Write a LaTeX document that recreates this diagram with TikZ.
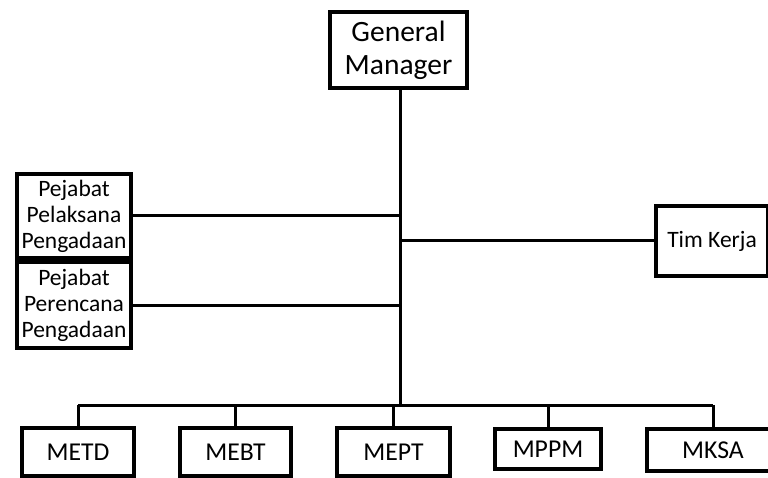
\documentclass[tikz,border=0pt]{standalone}
\usepackage{fontspec}
\setmainfont{Carlito}
\usetikzlibrary{positioning}

\begin{document}
\begin{tikzpicture}[x=1pt,y=-1pt,
    kotak/.style={draw,line width=4.4pt,fill=white,inner sep=0pt,align=center},
    garis/.style={line width=3pt}]
    \useasboundingbox (0,0) rectangle (768,478);
    \clip (0,0) rectangle (768,478);
    % pimpinan
    \node[kotak,minimum width=137pt,minimum height=76pt,font=\fontsize{29.5}{33}\selectfont] (gm) at (398.5,50) {General\\Manager};
    % pejabat pengadaan
    \node[kotak,minimum width=114pt,minimum height=84pt,font=\fontsize{23.5}{26}\selectfont] (ppl) at (74,216) {Pejabat\\Pelaksana\\Pengadaan};
    \node[kotak,minimum width=114pt,minimum height=86pt,font=\fontsize{23.5}{26}\selectfont] (ppr) at (74,305) {Pejabat\\Perencana\\Pengadaan};
    \node[kotak,minimum width=112pt,minimum height=70pt,font=\fontsize{23.5}{28}\selectfont] (tim) at (712,241) {Tim Kerja};
    % manajer bidang
    \node[kotak,minimum width=112pt,minimum height=48pt,font=\fontsize{25.7}{30}\selectfont] (metd) at (78,452) {METD};
    \node[kotak,minimum width=111pt,minimum height=48pt,font=\fontsize{25.7}{30}\selectfont] (mebt) at (235.5,452) {MEBT};
    \node[kotak,minimum width=113pt,minimum height=48pt,font=\fontsize{25.7}{30}\selectfont] (mept) at (393.5,452) {MEPT};
    \node[kotak,minimum width=106pt,minimum height=40pt,font=\fontsize{25.7}{30}\selectfont] (mppm) at (548,449) {MPPM};
    \node[kotak,minimum width=132pt,minimum height=42pt,font=\fontsize{25.7}{30}\selectfont] (mksa) at (713,450) {MKSA};
    % garis
    \coordinate (bus) at (400,405);
    \draw[garis] (gm.south -| bus) -- (bus);
    \draw[garis] (ppl.east) -- (ppl.east -| bus);
    \draw[garis] (ppr.east) -- (ppr.east -| bus);
    \draw[garis] (tim.west) -- (tim.west -| bus);
    \draw[garis] (metd.north |- bus) -- (mksa.north |- bus);
    \foreach \m in {metd,mebt,mept,mppm,mksa}
        \draw[garis] (\m.north) -- (\m.north |- bus);
\end{tikzpicture}
\end{document}
